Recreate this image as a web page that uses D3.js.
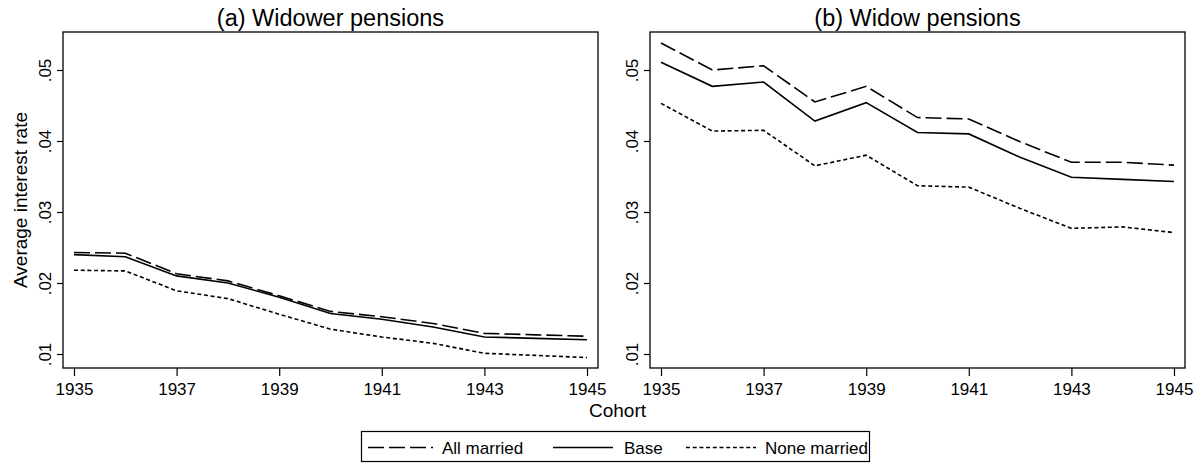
<!DOCTYPE html>
<html><head><meta charset="utf-8">
<script src="https://cdn.jsdelivr.net/npm/d3@7"></script>
<style>body{margin:0;background:#fff}svg{display:block}text{font-family:"Liberation Sans",Arial,sans-serif;fill:#000}</style>
</head><body><svg id="c" width="1202" height="463"></svg>
<script>
const cohorts = [1935,1936,1937,1938,1939,1940,1941,1942,1943,1944,1945];
const xTicks = [1935,1937,1939,1941,1943,1945];
const yTicks = [0.01,0.02,0.03,0.04,0.05];
const yTickLabels = [".01",".02",".03",".04",".05"];
const seriesNames = ["All married","Base","None married"];
const widowerAll  = [0.0243,0.0242,0.0213,0.0203,0.0182,0.0160,0.01525,0.0143,0.0129,0.0127,0.0125];
const widowerBase = [0.0240,0.0237,0.0210,0.0200,0.0180,0.0157,0.0149,0.0138,0.0124,0.0122,0.0120];
const widowerNone = [0.0218,0.0217,0.0189,0.0178,0.0156,0.0135,0.0124,0.0115,0.0101,0.0098,0.0095];
const widowAll    = [0.0538,0.0500,0.0506,0.0455,0.0477,0.0433,0.0431,0.0399,0.0370,0.0370,0.0366];
const widowBase   = [0.0511,0.0477,0.0483,0.0428,0.0454,0.0412,0.0410,0.0377,0.0349,0.0346,0.0343];
const widowNone   = [0.0453,0.0414,0.0415,0.0365,0.0380,0.0337,0.0335,0.0305,0.0277,0.0279,0.0271];

const dashes = ["16,5", null, "4,2.7"];
const svg = d3.select("#c");
const panels = [
  {title:"(a) Widower pensions", left:63, right:598, data:[widowerAll,widowerBase,widowerNone]},
  {title:"(b) Widow pensions", left:650, right:1185, data:[widowAll,widowBase,widowNone]}
];
const frameTop = 32, frameBottom = 368;
const y = d3.scaleLinear().domain([0.01,0.05]).range([354,70]);
panels.forEach(p=>{
  const x = d3.scaleLinear().domain([1935,1945]).range([p.left+11,p.right-11]);
  const g = svg.append("g");
  g.append("rect").attr("x",p.left).attr("y",frameTop).attr("width",p.right-p.left).attr("height",frameBottom-frameTop)
    .attr("fill","none").attr("stroke","#000").attr("stroke-width",1.3);
  const xa = g.append("g").attr("transform",`translate(0,${frameBottom})`)
    .call(d3.axisBottom(x).tickValues(xTicks).tickFormat(d3.format("d")).tickSize(8).tickSizeOuter(0));
  xa.attr("font-size",null).attr("font-family",null);
  xa.select(".domain").remove();
  xa.selectAll("text").style("font-size","17px").attr("dy",null).attr("y",27);
  xa.selectAll("line").attr("stroke","#000").attr("stroke-width",1.2);
  const ya = g.append("g").attr("transform",`translate(${p.left},0)`)
    .call(d3.axisLeft(y).tickValues(yTicks).tickFormat((d,i)=>yTickLabels[i]).tickSize(6).tickSizeOuter(0));
  ya.attr("font-size",null).attr("font-family",null);
  ya.select(".domain").remove();
  ya.selectAll("line").attr("stroke","#000").attr("stroke-width",1.2);
  ya.selectAll("text").style("font-size","17px")
    .attr("x",null).attr("dy",null).attr("text-anchor","middle")
    .attr("transform","translate(-12,0) rotate(-90)").attr("y",0);
  g.append("text").attr("x",(p.left+p.right)/2).attr("y",26).attr("text-anchor","middle")
    .style("font-size","23.5px").text(p.title);
  const line = d3.line().x((d,i)=>x(cohorts[i])).y(d=>y(d));
  p.data.forEach((s,k)=>{
    g.append("path").datum(s).attr("d",line).attr("fill","none").attr("stroke","#000")
      .attr("stroke-width",1.6).attr("stroke-dasharray",dashes[k]);
  });
});
svg.append("text").attr("transform","translate(26.5,200) rotate(-90)").attr("text-anchor","middle")
  .style("font-size","19px").text("Average interest rate");
svg.append("text").attr("x",617.5).attr("y",417).attr("text-anchor","middle").style("font-size","19px").text("Cohort");
// legend
const lg = svg.append("g");
lg.append("rect").attr("x",361.5).attr("y",431.5).attr("width",508).attr("height",30)
  .attr("fill","none").attr("stroke","#000").attr("stroke-width",1.2);
const legX = [[368,433,442],[553,613,624],[686,756,765]];
seriesNames.forEach((n,k)=>{
  lg.append("line").attr("x1",legX[k][0]).attr("x2",legX[k][1]).attr("y1",447.5).attr("y2",447.5)
    .attr("stroke","#000").attr("stroke-width",1.4).attr("stroke-dasharray",dashes[k]);
  lg.append("text").attr("x",legX[k][2]).attr("y",453.5).style("font-size","17px").text(n);
});
</script></body></html>
